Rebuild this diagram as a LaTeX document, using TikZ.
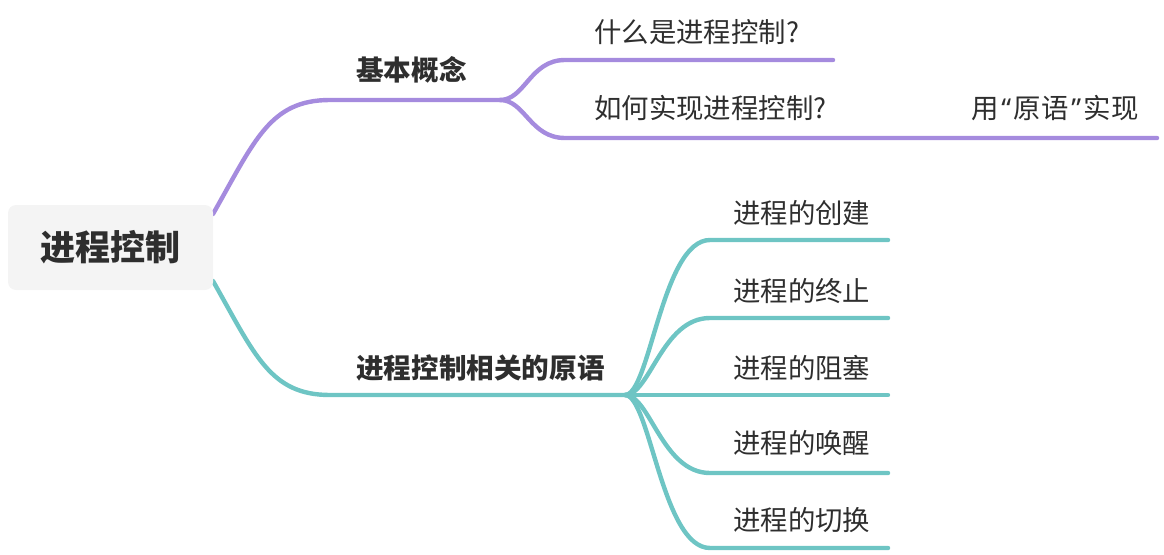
\documentclass[tikz,border=0pt]{standalone}
\usepackage{fontspec}
\setmainfont{Noto Sans CJK SC}
\newfontfamily\latinq{Noto Sans}
\definecolor{pur}{HTML}{A58BDE}
\definecolor{tea}{HTML}{6EC5C4}
\definecolor{txt}{HTML}{2E2E2E}
\definecolor{rootbg}{HTML}{F4F4F4}
\newcommand{\qgap}{\hspace{2.7pt}}
\begin{document}
\begin{tikzpicture}[x=1pt,y=-1pt,
  pline/.style={draw=pur,line width=4.4pt,line cap=round},
  tline/.style={draw=tea,line width=4.4pt,line cap=round},
  lbl/.style={text=txt,font=\fontsize{27.4}{32}\selectfont,inner sep=0pt,anchor=west},
  blbl/.style={lbl,font=\fontsize{27.6}{32}\selectfont\bfseries},
  rootbox/.style={fill=rootbg,rounded corners=8pt,text=txt,font=\fontsize{35}{40}\selectfont\bfseries}]
\useasboundingbox (0,0) rectangle (1164,554);
% coordinates
\coordinate (r1) at (213,214);
\coordinate (r2) at (213,281);
\coordinate (p0) at (330,100);
\coordinate (ps) at (500,100);
\coordinate (pa) at (565,60);
\coordinate (pae) at (833,60);
\coordinate (pb) at (565,138);
\coordinate (pbe) at (1157,138);
\coordinate (t0) at (330,395);
\coordinate (ts) at (625,395);
% branches
\draw[pline] (r1) .. controls (255,140) and (270,100) .. (p0) -- (ps);
\draw[pline] (ps) .. controls (525,100) and (530,60) .. (pa) -- (pae);
\draw[pline] (ps) .. controls (525,100) and (530,138) .. (pb) -- (pbe);
\draw[tline] (r2) .. controls (255,355) and (270,395) .. (t0) -- (ts);
\foreach \n/\yy in {1/240,2/318,3/395,4/473,5/548}{
  \coordinate (c\n) at (710,\yy);
  \coordinate (e\n) at (888,\yy);
  \draw[tline] (ts) .. controls (650,395) and (662,\yy) .. (c\n) -- (e\n);
}
% root
\node[rootbox,minimum width=205pt,minimum height=85pt] (root) at (110.5,247.5) {进程控制};
% labels
\node[blbl] (n1) at (356,70) {基本概念};
\node[lbl] (n11) at (594,32) {什么是进程控制?};
\node[lbl] (n12) at (594,108) {如何实现进程控制?};
\node[lbl] (n121) at (971,108) {用\qgap{\latinq “}\qgap 原语\qgap{\latinq ”}\qgap 实现};
\node[blbl] (n2) at (356,368) {进程控制相关的原语};
\node[lbl] (m1) at (733,213) {进程的创建};
\node[lbl] (m2) at (733,291) {进程的终止};
\node[lbl] (m3) at (733,368) {进程的阻塞};
\node[lbl] (m4) at (733,443) {进程的唤醒};
\node[lbl] (m5) at (733,520) {进程的切换};
\end{tikzpicture}
\end{document}
